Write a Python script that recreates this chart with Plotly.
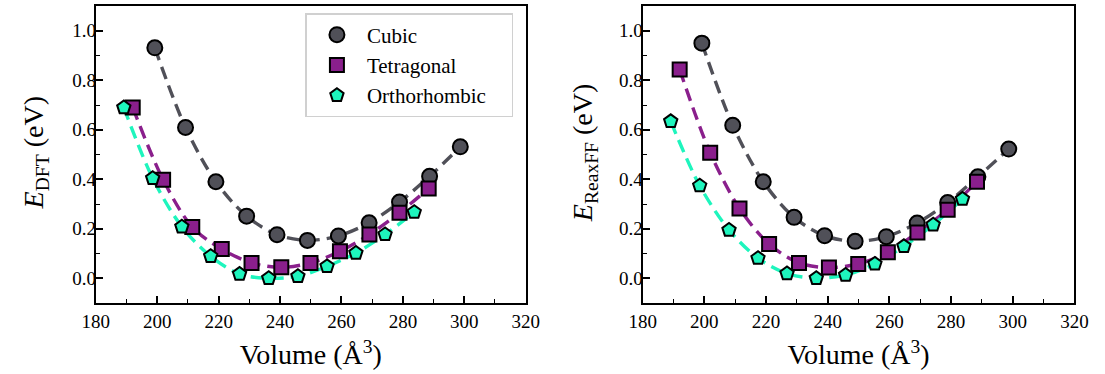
import plotly.graph_objects as go

# ---------------- data ----------------
cubic_vol = [199.2, 209.2, 219.1, 229.1, 239.0, 248.9, 259.0, 269.0, 278.9, 288.7, 298.7]
tet_vol = [192.0, 201.9, 211.4, 221.0, 230.7, 240.4, 249.9, 259.5, 269.1, 278.9, 288.4]
orth_vol = [189.1, 198.5, 208.0, 217.4, 226.8, 236.3, 245.8, 255.3, 264.7, 274.2, 283.7]

cubic_dft = [0.931, 0.609, 0.390, 0.251, 0.176, 0.153, 0.171, 0.224, 0.308, 0.412, 0.531]
tet_dft = [0.690, 0.398, 0.207, 0.118, 0.062, 0.044, 0.062, 0.109, 0.177, 0.265, 0.363]
orth_dft = [0.690, 0.404, 0.208, 0.089, 0.017, 0.000, 0.008, 0.048, 0.102, 0.177, 0.267]

cubic_reax = [0.950, 0.618, 0.390, 0.246, 0.172, 0.149, 0.168, 0.223, 0.306, 0.410, 0.522]
tet_reax = [0.843, 0.507, 0.282, 0.138, 0.062, 0.043, 0.058, 0.105, 0.185, 0.277, 0.390]
orth_reax = [0.634, 0.374, 0.195, 0.081, 0.019, 0.000, 0.013, 0.058, 0.129, 0.216, 0.320]

series_names = ["Cubic", "Tetragonal", "Orthorhombic"]
x_ticks = [180, 200, 220, 240, 260, 280, 300, 320]
y_ticks = [0.0, 0.2, 0.4, 0.6, 0.8, 1.0]
x_title = "Volume (Å<sup>3</sup>)"
y_titles = ["<i>E</i><sub>DFT</sub> (eV)", "<i>E</i><sub>ReaxFF</sub> (eV)"]

# ---------------- style ----------------
colors = ["#505058", "#8a1f8c", "#1ef5bd"]
symbols = ["circle", "square", "pentagon"]
msizes = [15, 14, 14]
FONT = "'Liberation Serif', 'Times New Roman', Times, serif"
W, H = 1105, 374

fig = go.Figure()

panels = [
    ("x", "y", [cubic_dft, tet_dft, orth_dft]),
    ("x2", "y2", [cubic_reax, tet_reax, orth_reax]),
]
vols = [cubic_vol, tet_vol, orth_vol]

for pi, (xa, ya, ens) in enumerate(panels):
    # dashed smooth lines first
    for i in range(3):
        fig.add_trace(go.Scatter(
            x=vols[i], y=ens[i], mode="lines", xaxis=xa, yaxis=ya,
            line=dict(color=colors[i], width=3.4, dash="13px,7px", shape="spline", smoothing=0.9),
            showlegend=False, hoverinfo="skip"))
    for i in range(3):
        # pad the longest legend label so the box reaches the reference width
        label = series_names[i] + ("\u00a0" * 4 if i == 2 else "")
        fig.add_trace(go.Scatter(
            x=vols[i], y=ens[i], mode="markers", xaxis=xa, yaxis=ya,
            name=label, showlegend=(pi == 0),
            marker=dict(symbol=symbols[i], size=msizes[i], color=colors[i],
                        line=dict(color="black", width=2))))

xdoms = [[84 / W, 525 / W], [645 / W, 1088 / W]]
ydom = [1 - 303 / H, 1 - 6 / H]

common_x = dict(range=[180, 320], tickvals=x_ticks, ticks="inside", ticklen=7, tickwidth=1.5,
                tickcolor="black", showline=True, linecolor="black", linewidth=2, mirror=True,
                showgrid=False, zeroline=False,
                minor=dict(ticks="inside", ticklen=4, tickwidth=1.2, tickcolor="black", dtick=10),
                tickfont=dict(family=FONT, size=19, color="black"),
                title=dict(text=x_title, font=dict(family=FONT, size=28, color="black"),
                           standoff=14))
common_y = dict(range=[-0.1, 1.1], tickvals=y_ticks, tickformat=".1f", ticks="inside", ticklen=7,
                tickwidth=1.5, tickcolor="black", showline=True, linecolor="black", linewidth=2,
                mirror=True, showgrid=False, zeroline=False, ticklabelstandoff=-6,
                minor=dict(ticks="inside", ticklen=4, tickwidth=1.2, tickcolor="black", dtick=0.1),
                tickfont=dict(family=FONT, size=19, color="black"), domain=ydom)

annotations = []
for xc, txt in zip([22, 585], y_titles):
    annotations.append(dict(
        text=txt, x=xc / W, y=1 - 153 / H, xref="paper", yref="paper",
        xanchor="center", yanchor="middle", textangle=-90, showarrow=False,
        font=dict(family=FONT, size=28, color="black")))

fig.update_layout(
    width=W, height=H,
    margin=dict(l=0, r=0, t=0, b=0),
    paper_bgcolor="white", plot_bgcolor="white",
    font=dict(family=FONT, color="black"),
    xaxis=dict(common_x, domain=xdoms[0], anchor="y"),
    xaxis2=dict(common_x, domain=xdoms[1], anchor="y2"),
    yaxis=dict(common_y, anchor="x"),
    yaxis2=dict(common_y, anchor="x2"),
    annotations=annotations,
    legend=dict(x=299 / W, y=1 - 13 / H, xanchor="left", yanchor="top",
                bgcolor="white", bordercolor="#d0d0d0", borderwidth=1.5,
                font=dict(family=FONT, size=21, color="black"),
                itemwidth=50, tracegroupgap=0),
    showlegend=True,
)

fig.write_html("out.html")
